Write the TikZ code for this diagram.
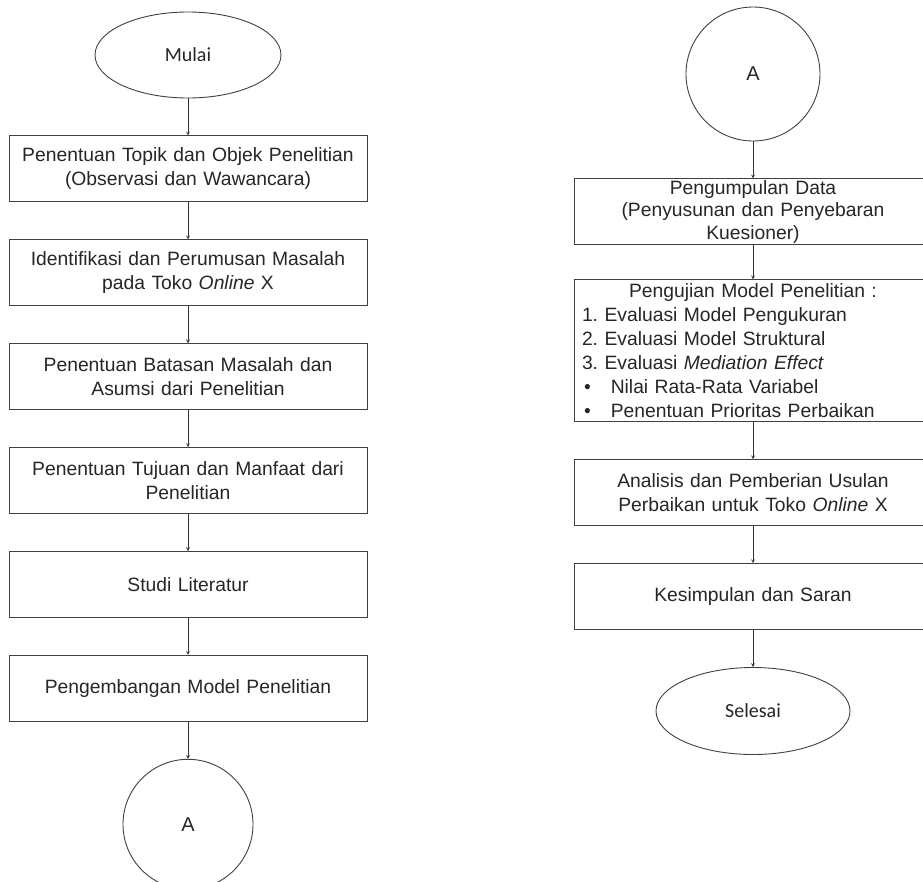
\documentclass[tikz,border=0pt]{standalone}
\usepackage{fontspec}
\setmainfont{Liberation Sans}
\newfontfamily\calibri{Carlito}
\usetikzlibrary{positioning,shapes.geometric}

\tikzset{
  proses/.style={draw=black!75, line width=0.9pt, text width=342pt, inner xsep=8pt, inner ysep=0pt,
    minimum height=66pt, align=center, text=black!85, font=\fontsize{19.3}{24}\selectfont},
  terminal/.style={ellipse, draw=black!75, line width=0.9pt, inner sep=0pt, text=black!85,
    font=\calibri\fontsize{20}{24}\selectfont},
  konektor/.style={circle, draw=black!75, line width=0.9pt, inner sep=0pt, text=black!85,
    minimum size=132pt, font=\fontsize{20}{24}\selectfont},
  panah/.style={-stealth, line width=0.7pt, draw=black!80},
}

\begin{document}
\begin{tikzpicture}[x=1pt, y=1pt, node distance=37pt]
	\useasboundingbox (0,0) rectangle (923,-881);
	% kolom kiri
	\node[terminal, minimum width=186pt, minimum height=86pt] (mulai) at (188,-55) {Mulai};
	\node[proses, below=of mulai] (topik) {Penentuan Topik dan Objek Penelitian\\(Observasi dan Wawancara)};
	\node[proses, below=of topik] (masalah) {Identifikasi dan Perumusan Masalah\\pada Toko \textit{Online} X};
	\node[proses, below=of masalah] (batasan) {Penentuan Batasan Masalah dan\\Asumsi dari Penelitian};
	\node[proses, below=of batasan] (tujuan) {Penentuan Tujuan dan Manfaat dari\\Penelitian};
	\node[proses, below=of tujuan] (studi) {Studi Literatur};
	\node[proses, below=of studi] (model) {Pengembangan Model Penelitian};
	\node[konektor, minimum size=130pt, below=of model] (konA) {A};
	
	% kolom kanan
	\node[konektor, minimum size=134pt] (konB) at (753,-74) {A};
	\node[proses, below=of konB, font=\fontsize{19.3}{22.5}\selectfont] (data) {Pengumpulan Data\\(Penyusunan dan Penyebaran\\Kuesioner)};
	\node[proses, align=left, minimum height=142pt, below=34pt of data] (uji) {%
		\centerline{Pengujian Model Penelitian :}
		1.\ Evaluasi Model Pengukuran\\
		2.\ Evaluasi Model Struktural\\
		3.\ Evaluasi \textit{Mediation Effect}\\
		\hspace*{2pt}\textbullet\hspace{20pt}Nilai Rata-Rata Variabel\\
		\hspace*{2pt}\textbullet\hspace{20pt}Penentuan Prioritas Perbaikan};
	\node[proses, below=of uji] (usulan) {Analisis dan Pemberian Usulan\\Perbaikan untuk Toko \textit{Online} X};
	\node[proses, below=of usulan] (simpulan) {Kesimpulan dan Saran};
	\node[terminal, minimum width=194pt, minimum height=87pt, below=of simpulan] (selesai) {Selesai};
	
	\draw[panah] (mulai) -- (topik);
	\draw[panah] (topik) -- (masalah);
	\draw[panah] (masalah) -- (batasan);
	\draw[panah] (batasan) -- (tujuan);
	\draw[panah] (tujuan) -- (studi);
	\draw[panah] (studi) -- (model);
	\draw[panah] (model) -- (konA);
	\draw[panah] (konB) -- (data);
	\draw[panah] (data) -- (uji);
	\draw[panah] (uji) -- (usulan);
	\draw[panah] (usulan) -- (simpulan);
	\draw[panah] (simpulan) -- (selesai);
\end{tikzpicture}
\end{document}
